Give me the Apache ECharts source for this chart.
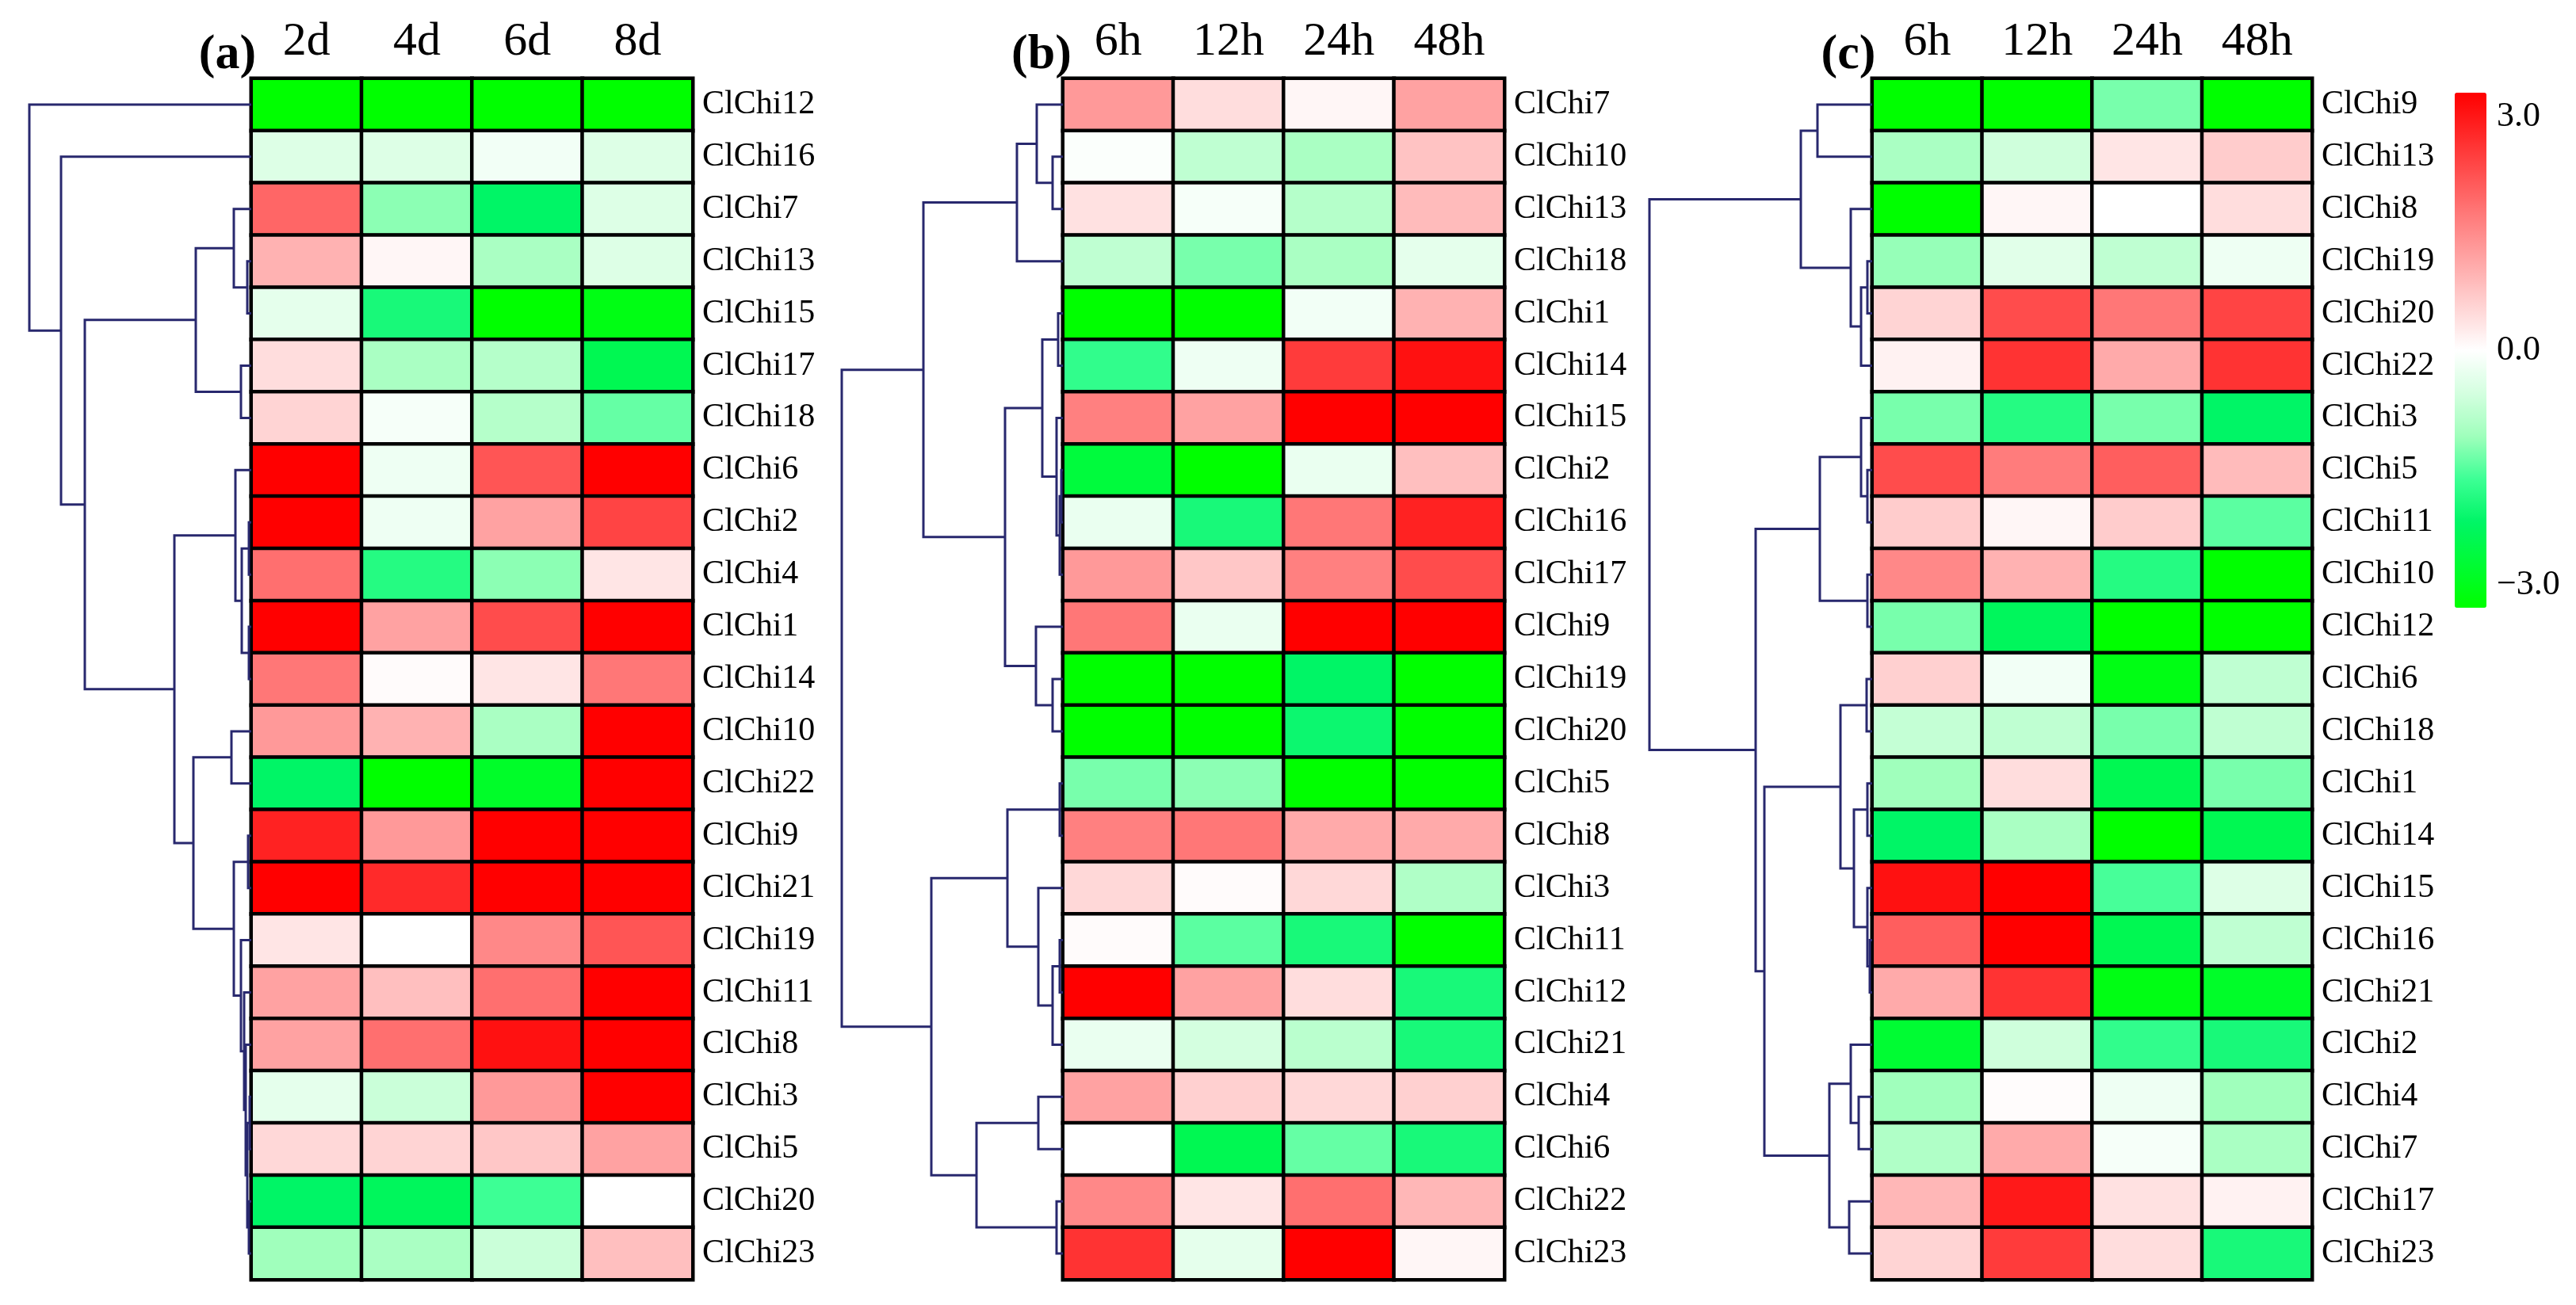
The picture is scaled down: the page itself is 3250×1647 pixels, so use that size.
<!DOCTYPE html>
<html>
<head>
<meta charset="utf-8">
<script src="https://cdn.jsdelivr.net/npm/echarts@6/dist/echarts.min.js"></script>
<style>html,body{margin:0;padding:0;background:#fff}#c{width:3250px;height:1647px}</style>
</head>
<body>
<div id="c"></div>
<script>
// ---------- data ----------
const colsA = ['2d', '4d', '6d', '8d'];
const colsB = ['6h', '12h', '24h', '48h'];
const colsC = ['6h', '12h', '24h', '48h'];

const rowsA = ['ClChi12','ClChi16','ClChi7','ClChi13','ClChi15','ClChi17','ClChi18','ClChi6','ClChi2','ClChi4','ClChi1','ClChi14','ClChi10','ClChi22','ClChi9','ClChi21','ClChi19','ClChi11','ClChi8','ClChi3','ClChi5','ClChi20','ClChi23'];
const rowsB = ['ClChi7','ClChi10','ClChi13','ClChi18','ClChi1','ClChi14','ClChi15','ClChi2','ClChi16','ClChi17','ClChi9','ClChi19','ClChi20','ClChi5','ClChi8','ClChi3','ClChi11','ClChi12','ClChi21','ClChi4','ClChi6','ClChi22','ClChi23'];
const rowsC = ['ClChi9','ClChi13','ClChi8','ClChi19','ClChi20','ClChi22','ClChi3','ClChi5','ClChi11','ClChi10','ClChi12','ClChi6','ClChi18','ClChi1','ClChi14','ClChi15','ClChi16','ClChi21','ClChi2','ClChi4','ClChi7','ClChi17','ClChi23'];

const valsA = [
  [-3,-3,-3,-3],
  [-0.4,-0.4,-0.15,-0.4],
  [1.8,-1.1,-2.0,-0.4],
  [0.9,0.1,-0.9,-0.4],
  [-0.3,-1.8,-3,-2.8],
  [0.4,-0.9,-0.8,-2.2],
  [0.5,-0.1,-0.8,-1.3],
  [3,-0.2,2.0,3],
  [3,-0.2,1.1,2.2],
  [1.7,-1.7,-1.1,0.3],
  [3,1.1,2.1,3],
  [1.6,0.05,0.3,1.6],
  [1.2,0.9,-0.9,3],
  [-2.0,-3,-2.6,3],
  [2.6,1.2,3,3],
  [3,2.5,3,3],
  [0.3,0,1.4,2.0],
  [1.1,0.75,1.7,3],
  [1.1,1.7,2.8,3],
  [-0.3,-0.6,1.2,3],
  [0.45,0.5,0.65,1.1],
  [-2.0,-2.1,-1.5,0],
  [-1.0,-0.9,-0.6,0.75]
];
const valsB = [
  [1.2,0.4,0.1,1.1],
  [-0.05,-0.7,-0.9,0.7],
  [0.35,-0.1,-0.8,0.8],
  [-0.7,-1.2,-0.9,-0.3],
  [-3,-3,-0.15,0.9],
  [-1.6,-0.2,2.3,2.8],
  [1.5,1.1,3,3],
  [-2.4,-3,-0.25,0.75],
  [-0.25,-1.8,1.6,2.6],
  [1.2,0.65,1.5,2.1],
  [1.6,-0.25,3,3],
  [-3,-3,-2.0,-3],
  [-3,-3,-1.9,-3],
  [-1.2,-1.1,-3,-3],
  [1.5,1.6,1.0,1.0],
  [0.45,0.05,0.45,-0.85],
  [0.05,-1.35,-1.8,-3],
  [3,1.1,0.4,-1.8],
  [-0.25,-0.5,-0.75,-1.8],
  [1.1,0.55,0.45,0.55],
  [0,-2.2,-1.3,-1.8],
  [1.4,0.3,1.7,0.85],
  [2.4,-0.3,3,0.1]
];
const valsC = [
  [-3,-3,-1.2,-3],
  [-0.9,-0.55,0.3,0.6],
  [-3,0.1,0,0.4],
  [-1.05,-0.35,-0.7,-0.2],
  [0.5,2.1,1.6,2.2],
  [0.15,2.4,1.0,2.4],
  [-1.2,-1.7,-1.2,-2.0],
  [2.1,1.55,1.9,0.8],
  [0.6,0.1,0.6,-1.35],
  [1.4,0.9,-1.7,-3],
  [-1.2,-2.1,-3,-3],
  [0.55,-0.15,-2.8,-0.7],
  [-0.65,-0.7,-1.2,-0.7],
  [-1.0,0.4,-2.2,-1.2],
  [-2.0,-0.9,-3,-2.2],
  [2.8,3,-1.45,-0.4],
  [1.9,3,-2.2,-0.7],
  [1.0,2.4,-2.8,-2.6],
  [-2.5,-0.55,-1.6,-1.8],
  [-1.0,0.03,-0.2,-1.0],
  [-0.85,1.0,-0.1,-0.9],
  [0.85,2.7,0.35,0.15],
  [0.5,2.3,0.4,-1.8]
];

// dendrograms: [mergeHeight, childA, childB]
const treeA = [28.0, 'ClChi12', [24.0, 'ClChi16', [21.0,
  [7.0, [2.2, 'ClChi7', [0.5, 'ClChi13', 'ClChi15']], [1.3, 'ClChi17', 'ClChi18']],
  [9.7,
    [2.0, 'ClChi6', [1.2, [0.3, 'ClChi2', 'ClChi4'], [0.3, 'ClChi1', 'ClChi14']]],
    [7.3, [2.5, 'ClChi10', 'ClChi22'],
      [2.2, [0.4, 'ClChi9', 'ClChi21'],
        [1.3, 'ClChi19', [0.9, 'ClChi11', [0.7, 'ClChi8', [0.5, [0.2, 'ClChi3', 'ClChi5'], [0.3, 'ClChi20', 'ClChi23']]]]]]]]]]];
const treeB = [27.9,
  [17.6,
    [5.8, [3.3, 'ClChi7', [1.3, 'ClChi10', 'ClChi13']], 'ClChi18'],
    [7.3,
      [2.6, [0.6, 'ClChi1', 'ClChi14'], [0.8, 'ClChi15', [0.4, [0.2, 'ClChi2', 'ClChi16'], 'ClChi17']]],
      [3.4, 'ClChi9', [1.3, 'ClChi19', 'ClChi20']]]],
  [16.6,
    [7.0, [0.4, 'ClChi5', 'ClChi8'], [3.1, 'ClChi3', [1.3, [0.4, 'ClChi11', 'ClChi12'], 'ClChi21']]],
    [10.9, [3.1, 'ClChi4', 'ClChi6'], [0.8, 'ClChi22', 'ClChi23']]]];
const treeC = [28.1,
  [9.0, [6.9, 'ClChi9', 'ClChi13'], [2.7, 'ClChi8', [1.4, [0.6, 'ClChi19', 'ClChi20'], 'ClChi22']]],
  [14.7,
    [6.6, [1.4, 'ClChi3', [0.6, 'ClChi5', 'ClChi11']], [0.6, 'ClChi10', 'ClChi12']],
    [13.6,
      [4.0, [0.7, 'ClChi6', 'ClChi18'], [2.3, [0.6, 'ClChi1', 'ClChi14'], [0.6, 'ClChi15', [0.3, 'ClChi16', 'ClChi21']]]],
      [5.4, [2.7, 'ClChi2', [1.7, 'ClChi4', 'ClChi7']], [2.9, 'ClChi17', 'ClChi23']]]]];

const scaleLabels = ['3.0', '0.0', '\u22123.0'];

// ---------- helpers ----------
function heatData(vals) {
  const out = [];
  vals.forEach((row, r) => row.forEach((v, c) => out.push([c, r, v])));
  return out;
}
function dendro(tree, rows) {
  const segs = [];
  function walk(n) {
    if (typeof n === 'string') return { y: rows.indexOf(n), h: 0 };
    const a = walk(n[1]), b = walk(n[2]);
    segs.push({ coords: [[a.h, a.y], [n[0], a.y], [n[0], b.y], [b.h, b.y]] });
    return { y: (a.y + b.y) / 2, h: n[0] };
  }
  walk(tree);
  return segs;
}

const FONT = 'Liberation Serif';
const TOP = 99, H = 1516;
const heatLefts = [317, 1341, 2362];
const heatW = [557, 557, 555];
const panels = [
  { cols: colsA, rows: rowsA, vals: valsA, tree: treeA, tag: '(a)', tagX: 287 },
  { cols: colsB, rows: rowsB, vals: valsB, tree: treeB, tag: '(b)', tagX: 1314 },
  { cols: colsC, rows: rowsC, vals: valsC, tree: treeC, tag: '(c)', tagX: 2332 }
];

const grid = [], xAxis = [], yAxis = [], series = [], graphic = [];
panels.forEach((p, i) => {
  grid.push({ left: heatLefts[i], top: TOP, width: heatW[i], height: H });
  xAxis.push({ type: 'category', gridIndex: i, data: p.cols, position: 'top',
    axisLine: { show: false }, axisTick: { show: false }, splitLine: { show: false },
    axisLabel: { fontFamily: FONT, fontSize: 60, color: '#000', margin: 16 } });
  yAxis.push({ type: 'category', gridIndex: i, data: p.rows, inverse: true, position: 'right',
    axisLine: { show: false }, axisTick: { show: false }, splitLine: { show: false },
    axisLabel: { fontFamily: FONT, fontSize: 42, color: '#000', margin: 12 } });
  series.push({ type: 'heatmap', xAxisIndex: i, yAxisIndex: i, data: heatData(p.vals),
    itemStyle: { borderColor: '#000', borderWidth: 4.5 }, emphasis: { disabled: true } });
});
panels.forEach((p, i) => {
  const gi = 3 + i;
  grid.push({ left: heatLefts[i] - 300, top: TOP, width: 300, height: H });
  xAxis.push({ type: 'value', gridIndex: gi, min: 0, max: 30, inverse: true, show: false });
  yAxis.push({ type: 'value', gridIndex: gi, min: -0.5, max: 22.5, inverse: true, show: false });
  series.push({ type: 'lines', coordinateSystem: 'cartesian2d', xAxisIndex: gi, yAxisIndex: gi,
    polyline: true, silent: true, data: dendro(p.tree, p.rows),
    lineStyle: { color: '#28286e', width: 3, opacity: 1 } });
  graphic.push({ type: 'text', x: p.tagX, y: 70, style: { text: p.tag, fontFamily: FONT,
    fontSize: 62, fontWeight: 'bold', fill: '#000', align: 'center', verticalAlign: 'middle' } });
});
[147, 442, 738].forEach((y, k) => {
  graphic.push({ type: 'text', x: 3150, y: y, style: { text: scaleLabels[k], fontFamily: FONT,
    fontSize: 44, fill: '#000', align: 'left', verticalAlign: 'middle' } });
});

const chart = echarts.init(document.getElementById('c'), null, { renderer: 'canvas' });
chart.setOption({
  backgroundColor: '#fff',
  animation: false,
  grid, xAxis, yAxis, series, graphic,
  visualMap: {
    type: 'continuous', seriesIndex: [0, 1, 2], dimension: 2, min: -3, max: 3,
    orient: 'vertical', left: 3097, top: 117, itemWidth: 40, itemHeight: 650, padding: 0,
    calculable: false, text: null, showLabel: false, hoverLink: false,
    inRange: { color: ['#00ff00', '#00fc33', '#00f566', '#3dff95', '#a0ffbc', '#d4ffe0', '#ffffff',
      '#ffd4d4', '#ffaaaa', '#ff8080', '#ff5555', '#ff2a2a', '#ff0000'] }
  }
});
</script>
</body>
</html>
